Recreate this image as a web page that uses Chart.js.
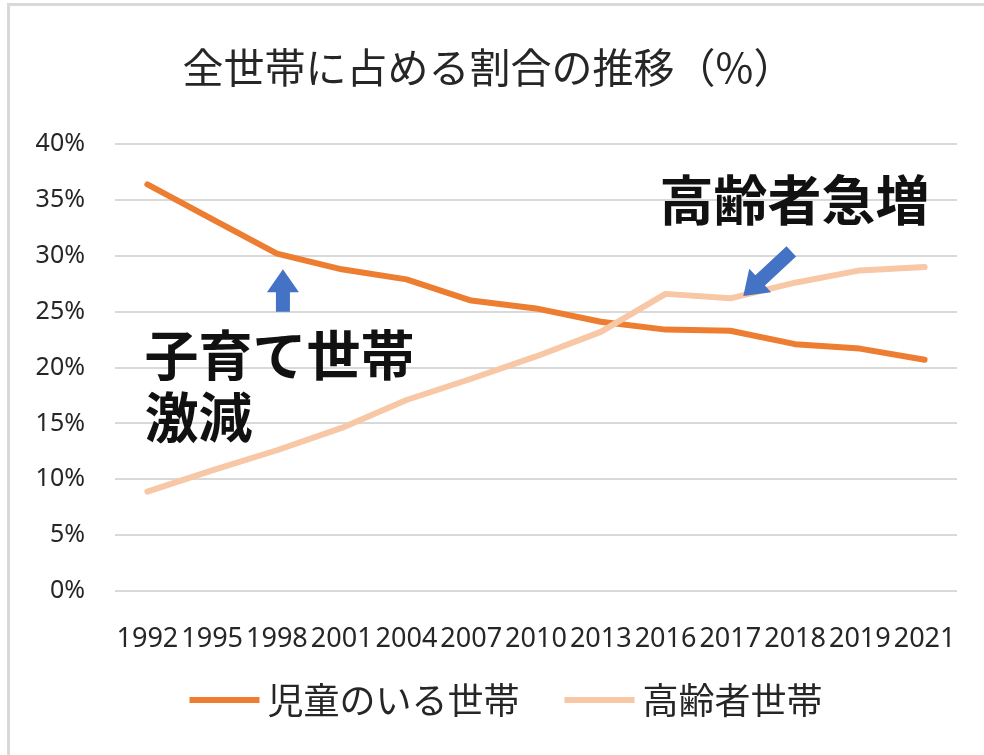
<!DOCTYPE html>
<html lang="ja">
<head>
<meta charset="utf-8">
<script src="https://cdn.jsdelivr.net/npm/chart.js@4.4.0/dist/chart.umd.min.js"></script>
<style>
  html, body { margin: 0; padding: 0; background: #fff; }
  #wrap { position: relative; width: 984px; height: 755px; overflow: hidden; }
  #frame { position: absolute; left: 7px; top: 3px; right: -10px; bottom: -10px; border-top: 3px solid #d9d9d9; border-left: 3px solid #d9d9d9; pointer-events: none; }
</style>
</head>
<body>
<div id="wrap">
  <canvas id="householdChart" width="984" height="755"></canvas>
  <div id="frame"></div>
</div>
<script>
// Survey years (x axis categories)
const years = ['1992', '1995', '1998', '2001', '2004', '2007', '2010', '2013', '2016', '2017', '2018', '2019', '2021'];

// Share of all households (%)
const childHouseholds = [36.4, 33.3, 30.2, 28.8, 27.9, 26.0, 25.3, 24.1, 23.4, 23.3, 22.1, 21.7, 20.7];
const elderlyHouseholds = [8.9, 10.8, 12.6, 14.6, 17.1, 19.0, 21.0, 23.2, 26.6, 26.2, 27.6, 28.7, 29.0];

const seriesNames = ['児童のいる世帯', '高齢者世帯'];
const chartTitle = '全世帯に占める割合の推移（%）';
const calloutDown = ['子育て世帯', '激減'];
const calloutUp = '高齢者急増';

const FONT_JP = '"Noto Sans CJK JP", "Noto Sans", sans-serif';
const TEXT_COLOR = '#262626';
const ARROW_BLUE = '#4472C4';

// Draw a filled block arrow from (x0,y0) to the tip at (x1,y1)
function drawArrow(ctx, x0, y0, x1, y1) {
    const ang = Math.atan2(y1 - y0, x1 - x0);
    const len = Math.hypot(x1 - x0, y1 - y0);
    const headLen = 23, headHalf = 16, shaftHalf = 7;
    ctx.save();
    ctx.translate(x0, y0);
    ctx.rotate(ang);
    ctx.beginPath();
    ctx.moveTo(0, -shaftHalf);
    ctx.lineTo(len - headLen, -shaftHalf);
    ctx.lineTo(len - headLen, -headHalf);
    ctx.lineTo(len, 0);
    ctx.lineTo(len - headLen, headHalf);
    ctx.lineTo(len - headLen, shaftHalf);
    ctx.lineTo(0, shaftHalf);
    ctx.closePath();
    ctx.fillStyle = ARROW_BLUE;
    ctx.fill();
    ctx.restore();
}

// Plugin for the arrows and the big bold comments
const calloutPlugin = {
    id: 'callouts',
    afterDatasetsDraw(chart) {
        const { ctx, scales: { x, y } } = chart;
        ctx.save();
        // arrow pointing up at the 1998 point
        drawArrow(ctx, x.getPixelForValue(2) + 6, y.getPixelForValue(25), x.getPixelForValue(2) + 6, y.getPixelForValue(28.8));
        // arrow pointing down-left at the 2017 point
        drawArrow(ctx, x.getPixelForValue(9) + 61, y.getPixelForValue(30.4), x.getPixelForValue(9) + 13, y.getPixelForValue(26.4));

        ctx.fillStyle = '#111';
        ctx.font = 'bold 54px ' + FONT_JP;
        ctx.textBaseline = 'middle';
        ctx.textAlign = 'left';
        ctx.fillText(calloutDown[0], x.getPixelForValue(0) - 3, y.getPixelForValue(21.1));
        ctx.fillText(calloutDown[1], x.getPixelForValue(0) - 3, y.getPixelForValue(15.5));
        ctx.textAlign = 'right';
        ctx.fillText(calloutUp, x.getPixelForValue(12) + 5, y.getPixelForValue(35.0));
        ctx.restore();
    }
};

// Legend drawn under the axis, like the Excel one (sample line + label)
const legendPlugin = {
    id: 'bottomLegend',
    afterDraw(chart) {
        const { ctx, chartArea } = chart;
        const sampleLen = 70, textGap = 8, itemGap = 45;
        const legendY = chartArea.bottom + 109;
        ctx.save();
        ctx.font = '36px ' + FONT_JP;
        ctx.textBaseline = 'middle';
        ctx.textAlign = 'left';
        const items = chart.data.datasets.map(ds => ({
            text: ds.label,
            color: ds.borderColor,
            width: sampleLen + textGap + ctx.measureText(ds.label).width
        }));
        const total = items.reduce((s, it) => s + it.width, 0) + itemGap * (items.length - 1);
        let cx = (chartArea.left + chartArea.right) / 2 - 30 - total / 2;
        items.forEach(it => {
            ctx.fillStyle = it.color;
            ctx.fillRect(cx, legendY - 3, sampleLen, 6);
            ctx.fillStyle = TEXT_COLOR;
            ctx.fillText(it.text, cx + sampleLen + textGap, legendY);
            cx += it.width + itemGap;
        });
        ctx.restore();
    }
};

const ctx = document.getElementById('householdChart').getContext('2d');
new Chart(ctx, {
    type: 'line',
    data: {
        labels: years,
        datasets: [{
            label: seriesNames[0],
            data: childHouseholds,
            borderColor: '#ED7D31',
            backgroundColor: '#ED7D31',
            borderWidth: 6,
            pointRadius: 0,
            borderCapStyle: 'round',
            borderJoinStyle: 'round',
            order: 1
        }, {
            label: seriesNames[1],
            data: elderlyHouseholds,
            borderColor: '#F7C7A6',
            backgroundColor: '#F7C7A6',
            borderWidth: 6,
            pointRadius: 0,
            borderCapStyle: 'round',
            borderJoinStyle: 'round',
            order: 0
        }]
    },
    options: {
        responsive: false,
        animation: false,
        layout: { padding: { left: 20, right: 27, top: 0, bottom: 102 } },
        plugins: {
            title: {
                display: true,
                text: chartTitle,
                color: TEXT_COLOR,
                font: { family: FONT_JP, size: 41, weight: 'normal' },
                padding: { top: 43, bottom: 52 }
            },
            legend: { display: false },
            tooltip: { enabled: false }
        },
        scales: {
            x: {
                offset: true,
                grid: { display: false },
                border: { display: false },
                ticks: {
                    autoSkip: false,
                    maxRotation: 0,
                    minRotation: 0,
                    padding: 24,
                    color: TEXT_COLOR,
                    font: { family: 'Noto Sans', size: 27 }
                },
                afterFit(scale) { scale.height = 62; }
            },
            y: {
                min: 0,
                max: 40,
                ticks: {
                    stepSize: 5,
                    padding: 30,
                    color: TEXT_COLOR,
                    font: { family: 'Noto Sans', size: 25 },
                    callback: v => v + '%'
                },
                grid: { color: '#D9D9D9', lineWidth: 2, drawTicks: false },
                border: { display: false },
                afterFit(scale) { scale.width = 95; }
            }
        }
    },
    plugins: [calloutPlugin, legendPlugin]
});
</script>
</body>
</html>
